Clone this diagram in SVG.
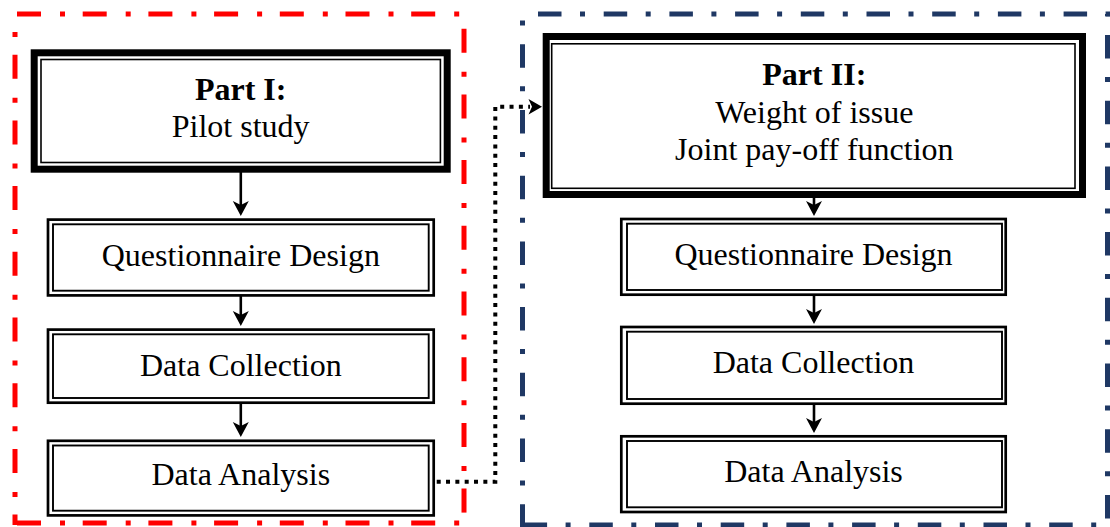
<svg xmlns="http://www.w3.org/2000/svg" width="1110" height="527" viewBox="0 0 1110 527">
<style>
.t{font-family:"Liberation Serif","Times New Roman",serif;font-size:32px;fill:#000;text-anchor:middle}
.b{font-weight:bold}
.thick{fill:#fff;stroke:#000;stroke-width:7}
.thin{fill:none;stroke:#000;stroke-width:1.6}
.o{fill:#fff;stroke:#000;stroke-width:2.7}
.i{fill:none;stroke:#000;stroke-width:1.9}
.red{stroke:#FF0000;stroke-width:5;fill:none;stroke-dasharray:24 19 5 17.7}
.blue{stroke:#1F3864;stroke-width:5;fill:none;stroke-dasharray:23.5 18.5 5 18.7}
.ln{stroke:#000;stroke-width:2.6;fill:none}
.hd{fill:#000}
</style>
<rect width="1110" height="527" fill="#fff"/>
<g id="frame-part1">
<line class="red" x1="17" y1="14" x2="466" y2="14"/>
<line class="red" x1="15" y1="14" x2="15" y2="525" stroke-dashoffset="25"/>
<line class="red" x1="464" y1="14" x2="464" y2="525" stroke-dashoffset="51"/>
<line class="red" x1="17" y1="523" x2="466" y2="523"/>
</g>
<g id="frame-part2">
<line class="blue" x1="520" y1="14" x2="1110" y2="14" stroke-dashoffset="47.7"/>
<line class="blue" x1="522.5" y1="14" x2="522.5" y2="527" stroke-dashoffset="35.4"/>
<line class="blue" x1="1107.5" y1="14" x2="1107.5" y2="527" stroke-dashoffset="44.7"/>
<line class="blue" x1="520" y1="525" x2="1110" y2="525" stroke-dashoffset="62.1"/>
</g>
<g id="connectors">
<line class="ln" x1="240.8" y1="172" x2="240.8" y2="207"/>
<path class="hd" d="M240.8,216 L232.8,201 L240.8,205 L248.8,201 Z"/>
<line class="ln" x1="240.8" y1="296" x2="240.8" y2="317"/>
<path class="hd" d="M240.8,326 L232.8,311 L240.8,315 L248.8,311 Z"/>
<line class="ln" x1="240.8" y1="403" x2="240.8" y2="428"/>
<path class="hd" d="M240.8,437 L232.8,422 L240.8,426 L248.8,422 Z"/>
<line class="ln" x1="814" y1="197" x2="814" y2="207"/>
<path class="hd" d="M814,216 L806,201 L814,205 L822,201 Z"/>
<line class="ln" x1="814" y1="295" x2="814" y2="315"/>
<path class="hd" d="M814,324 L806,309 L814,313 L822,309 Z"/>
<line class="ln" x1="814" y1="404" x2="814" y2="424"/>
<path class="hd" d="M814,433 L806,418 L814,422 L822,418 Z"/>
<path d="M436.7,481.7 H495.3 V106.7 H530" fill="none" stroke="#000" stroke-width="4" stroke-dasharray="4 5.33"/>
<path class="hd" d="M542,106.7 L528.5,99 L532,106.7 L528.5,114.4 Z"/>
</g>
<g id="part1">
<rect class="thick" x="34.2" y="52.8" width="413" height="116.4"/>
<rect class="thin" x="41" y="59.5" width="399.4" height="103"/>
<text class="t b" x="240.7" y="100">Part I:</text>
<text class="t" x="240.7" y="136.7">Pilot study</text>
</g>
<g id="qd1">
<rect class="o" x="48" y="219.6" width="385.7" height="75.8"/>
<rect class="i" x="53" y="224.3" width="375.7" height="66.4"/>
<text class="t" x="240.8" y="266">Questionnaire Design</text>
</g>
<g id="dc1">
<rect class="o" x="48" y="329.6" width="385.7" height="73.1"/>
<rect class="i" x="53" y="334.3" width="375.7" height="63.7"/>
<text class="t" x="240.8" y="375.5">Data Collection</text>
</g>
<g id="da1">
<rect class="o" x="48" y="440.8" width="385.7" height="74.6"/>
<rect class="i" x="53" y="445.5" width="375.7" height="65.2"/>
<text class="t" x="240.8" y="484.5">Data Analysis</text>
</g>
<g id="part2">
<rect class="thick" x="546.2" y="36.5" width="536.3" height="158"/>
<rect class="thin" x="551.7" y="43.8" width="523.3" height="144.5"/>
<text class="t b" x="814.3" y="85">Part II:</text>
<text class="t" x="814.3" y="122.7">Weight of issue</text>
<text class="t" x="814.3" y="160">Joint pay-off function</text>
</g>
<g id="qd2">
<rect class="o" x="621.3" y="219" width="384.4" height="75.7"/>
<rect class="i" x="627" y="223.7" width="375" height="66.3"/>
<text class="t" x="813.5" y="265">Questionnaire Design</text>
</g>
<g id="dc2">
<rect class="o" x="621.3" y="327" width="384.4" height="76.7"/>
<rect class="i" x="627" y="331.7" width="375" height="67.3"/>
<text class="t" x="813.5" y="372.5">Data Collection</text>
</g>
<g id="da2">
<rect class="o" x="621.3" y="436.3" width="384.4" height="75.7"/>
<rect class="i" x="627" y="441" width="375" height="66.3"/>
<text class="t" x="813.5" y="481.5">Data Analysis</text>
</g>
</svg>
